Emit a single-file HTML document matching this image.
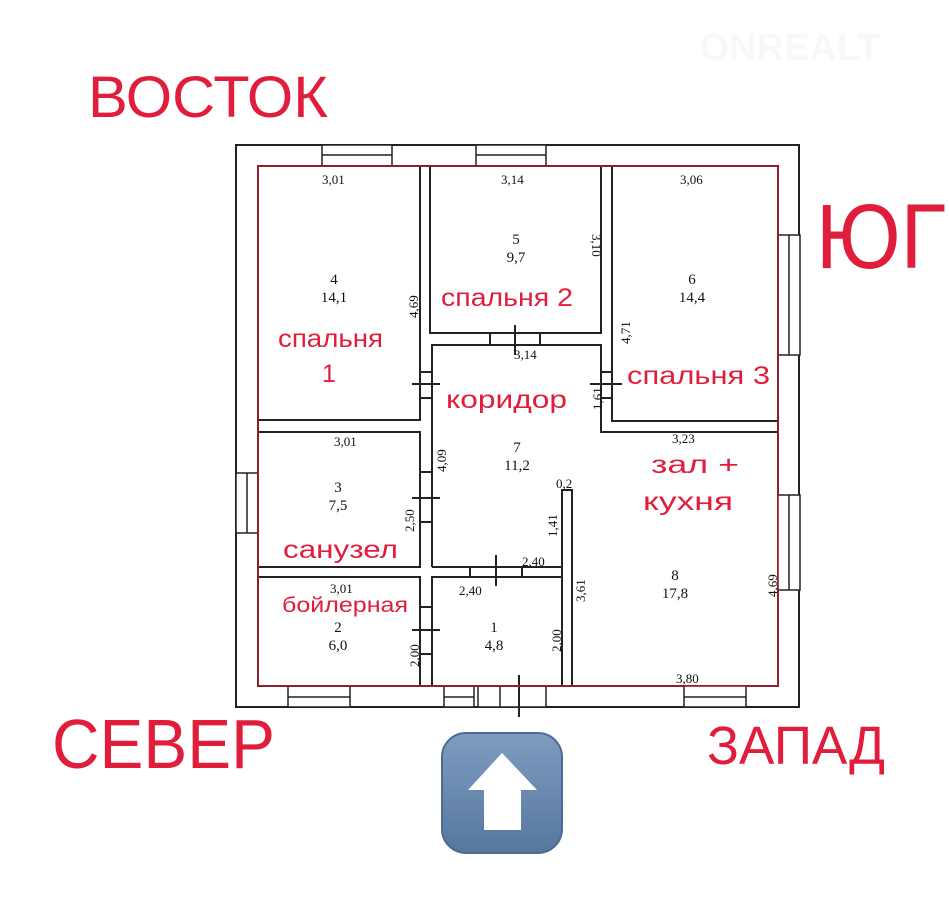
<!DOCTYPE html>
<html><head><meta charset="utf-8"><style>
html,body{margin:0;padding:0;background:#fff}
svg{display:block}
.r{fill:#e01e3c;font-family:"Liberation Sans",sans-serif}
.d{fill:#111;font-family:"Liberation Serif",serif;font-size:13px}
.n{fill:#111;font-family:"Liberation Serif",serif;font-size:15px;text-anchor:middle}
</style></head><body>
<svg width="949" height="910" viewBox="0 0 949 910" xmlns="http://www.w3.org/2000/svg">
<rect width="949" height="910" fill="#fff"/>
<text x="790" y="60" font-family="Liberation Sans" font-weight="bold" font-size="38" fill="#f8f8f8" text-anchor="middle">ONREALT</text>
<g stroke="#222" stroke-width="2" fill="none">
<rect x="236" y="145" width="563" height="562"/>
<rect x="258" y="166" width="520" height="520"/>
</g>
<g fill="#fff" stroke="#222" stroke-width="1.5">
<rect x="322" y="145" width="70" height="21"/><line x1="322" y1="155" x2="392" y2="155"/>
<rect x="476" y="145" width="70" height="21"/><line x1="476" y1="155" x2="546" y2="155"/>
<rect x="778" y="235" width="22" height="120"/><line x1="789" y1="235" x2="789" y2="355"/>
<rect x="778" y="495" width="22" height="95"/><line x1="789" y1="495" x2="789" y2="590"/>
<rect x="236" y="473" width="22" height="60"/><line x1="247" y1="473" x2="247" y2="533"/>
<rect x="288" y="686" width="62" height="21"/><line x1="288" y1="697" x2="350" y2="697"/>
<rect x="444" y="686" width="30" height="21"/><line x1="444" y1="697" x2="474" y2="697"/>
<rect x="478" y="686" width="68" height="21"/><line x1="500" y1="686" x2="500" y2="707"/>
<rect x="684" y="686" width="62" height="21"/><line x1="684" y1="697" x2="746" y2="697"/>
</g>
<g stroke="#222" stroke-width="2" fill="none">
<rect x="258" y="166" width="162" height="254"/>
<rect x="430" y="166" width="171" height="167"/>
<rect x="612" y="166" width="166" height="255"/>
<rect x="258" y="432" width="162" height="135"/>
<rect x="258" y="577" width="162" height="109"/>
<rect x="432" y="577" width="130" height="109"/>
<polyline points="432,567 432,345 601,345 601,432 778,432"/>
<line x1="432" y1="567" x2="562" y2="567"/>
<polyline points="562,686 562,490 572,490 572,686"/>
<line x1="412" y1="384" x2="440" y2="384"/><line x1="420" y1="372" x2="432" y2="372"/><line x1="420" y1="398" x2="432" y2="398"/>
<line x1="515" y1="325" x2="515" y2="355"/><line x1="490" y1="333" x2="490" y2="345"/><line x1="540" y1="333" x2="540" y2="345"/>
<line x1="590" y1="384" x2="622" y2="384"/><line x1="601" y1="372" x2="612" y2="372"/><line x1="601" y1="398" x2="612" y2="398"/>
<line x1="412" y1="498" x2="440" y2="498"/><line x1="420" y1="472" x2="432" y2="472"/><line x1="420" y1="522" x2="432" y2="522"/>
<line x1="496" y1="555" x2="496" y2="586"/><line x1="470" y1="567" x2="470" y2="577"/><line x1="522" y1="567" x2="522" y2="577"/>
<line x1="412" y1="630" x2="440" y2="630"/><line x1="420" y1="607" x2="432" y2="607"/><line x1="420" y1="654" x2="432" y2="654"/>
<line x1="519" y1="675" x2="519" y2="717"/>
</g>
<rect x="258" y="166" width="520" height="520" fill="none" stroke="#d42030" stroke-width="1.2"/>
<text class="d" x="322" y="184">3,01</text>
<text class="d" x="501" y="184">3,14</text>
<text class="d" x="680" y="184">3,06</text>
<text class="d" x="514" y="359">3,14</text>
<text class="d" x="334" y="446">3,01</text>
<text class="d" x="672" y="443">3,23</text>
<text class="d" x="330" y="593">3,01</text>
<text class="d" x="522" y="566">2,40</text>
<text class="d" x="459" y="595">2,40</text>
<text class="d" x="556" y="488">0,2</text>
<text class="d" x="676" y="683">3,80</text>
<g class="d">
<text transform="translate(418,318) rotate(-90)">4,69</text>
<text transform="translate(592,234) rotate(90)">3,10</text>
<text transform="translate(630,344) rotate(-90)">4,71</text>
<text transform="translate(602,410) rotate(-90)">1,61</text>
<text transform="translate(446,472) rotate(-90)">4,09</text>
<text transform="translate(414,532) rotate(-90)">2,50</text>
<text transform="translate(557,537) rotate(-90)">1,41</text>
<text transform="translate(585,602) rotate(-90)">3,61</text>
<text transform="translate(419,667) rotate(-90)">2,00</text>
<text transform="translate(561,652) rotate(-90)">2,00</text>
<text transform="translate(777,597) rotate(-90)">4,69</text>
</g>
<g class="n">
<text x="334" y="284">4</text><text x="334" y="302">14,1</text>
<text x="516" y="244">5</text><text x="516" y="262">9,7</text>
<text x="692" y="284">6</text><text x="692" y="302">14,4</text>
<text x="517" y="452">7</text><text x="517" y="470">11,2</text>
<text x="338" y="492">3</text><text x="338" y="510">7,5</text>
<text x="338" y="632">2</text><text x="338" y="650">6,0</text>
<text x="494" y="632">1</text><text x="494" y="650">4,8</text>
<text x="675" y="580">8</text><text x="675" y="598">17,8</text>
</g>
<g class="r" font-size="25">
<text x="441" y="306" textLength="132" lengthAdjust="spacingAndGlyphs">спальня 2</text>
<text x="278" y="347" textLength="105" lengthAdjust="spacingAndGlyphs">спальня</text>
<text x="322" y="382">1</text>
<text x="446" y="408" textLength="121" lengthAdjust="spacingAndGlyphs">коридор</text>
<text x="627" y="384" textLength="143" lengthAdjust="spacingAndGlyphs">спальня 3</text>
<text x="651" y="473" textLength="88" lengthAdjust="spacingAndGlyphs">зал +</text>
<text x="643" y="510" textLength="90" lengthAdjust="spacingAndGlyphs">кухня</text>
<text x="283" y="558" textLength="115" lengthAdjust="spacingAndGlyphs">санузел</text>
<text x="282" y="612" font-size="21" textLength="126" lengthAdjust="spacingAndGlyphs">бойлерная</text>
</g>
<text class="r" x="88" y="117" font-size="58" textLength="240" lengthAdjust="spacingAndGlyphs">ВОСТОК</text>
<text class="r" x="816" y="268" font-size="92" textLength="130" lengthAdjust="spacingAndGlyphs">ЮГ</text>
<text class="r" x="52" y="768" font-size="70" textLength="223" lengthAdjust="spacingAndGlyphs">СЕВЕР</text>
<text class="r" x="707" y="764" font-size="54" textLength="178" lengthAdjust="spacingAndGlyphs">ЗАПАД</text>
<defs><linearGradient id="g" x1="0" y1="0" x2="0" y2="1"><stop offset="0" stop-color="#7d9cc0"/><stop offset="1" stop-color="#56779e"/></linearGradient></defs>
<rect x="442" y="733" width="120" height="120" rx="24" fill="url(#g)" stroke="#4d6b92" stroke-width="2"/>
<polygon points="502,753 537,790 521,790 521,830 484,830 484,790 468,790" fill="#fff"/>
</svg>
</body></html>
